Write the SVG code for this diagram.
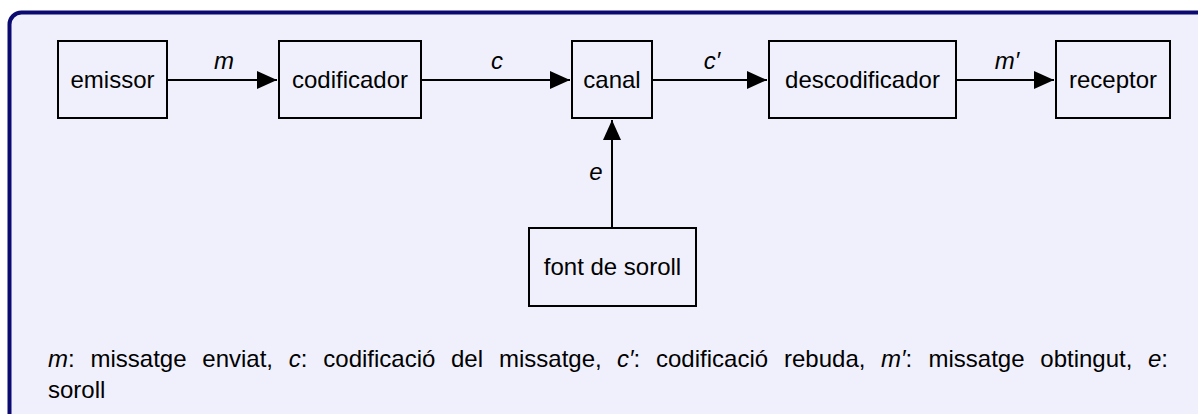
<svg xmlns="http://www.w3.org/2000/svg" width="1198" height="414" viewBox="0 0 1198 414">
<style>
text{font-family:"Liberation Sans",Arial,sans-serif;font-size:24px;fill:#000}
.box{fill:none;stroke:#000;stroke-width:2}
.lbl{text-anchor:middle}
.it{font-style:italic}
.edge{stroke:#000;stroke-width:2;fill:none}
</style>
<defs>
<marker id="ah" markerUnits="userSpaceOnUse" markerWidth="20" markerHeight="18" refX="20" refY="9" orient="auto">
<path d="M0,0 L20,9 L0,18 z" fill="#000"/>
</marker>
</defs>
<rect x="9.5" y="12.5" width="1210" height="430" rx="12" fill="#f0f0fc" stroke="#0a0a70" stroke-width="4"/>
<g id="emissor"><rect class="box" x="58" y="41" width="109" height="77"/><text class="lbl" x="112.5" y="88">emissor</text></g>
<g id="codificador"><rect class="box" x="279" y="41" width="142" height="77"/><text class="lbl" x="350" y="88">codificador</text></g>
<g id="canal"><rect class="box" x="572" y="41" width="80" height="77"/><text class="lbl" x="612" y="88">canal</text></g>
<g id="descodificador"><rect class="box" x="769" y="41" width="187" height="77"/><text class="lbl" x="862.5" y="88">descodificador</text></g>
<g id="receptor"><rect class="box" x="1056" y="41" width="114" height="77"/><text class="lbl" x="1113" y="88">receptor</text></g>
<g id="font"><rect class="box" x="529" y="228" width="167" height="78"/><text class="lbl" x="612.5" y="275">font de soroll</text></g>
<g id="connectors">
<line class="edge" x1="167" y1="80" x2="277" y2="80" marker-end="url(#ah)"/>
<line class="edge" x1="421" y1="80" x2="570" y2="80" marker-end="url(#ah)"/>
<line class="edge" x1="652" y1="80" x2="767" y2="80" marker-end="url(#ah)"/>
<line class="edge" x1="956" y1="80" x2="1054" y2="80" marker-end="url(#ah)"/>
<line class="edge" x1="612" y1="228" x2="612" y2="120" marker-end="url(#ah)"/>
<text class="lbl it" x="224" y="69">m</text>
<text class="lbl it" x="497" y="69">c</text>
<text class="lbl it" x="712" y="69">c′</text>
<text class="lbl it" x="1007" y="69">m′</text>
<text class="lbl it" x="596" y="180">e</text>
</g>
<g id="legend">
<text y="367"><tspan x="48" class="it">m</tspan><tspan>:</tspan><tspan x="90.5">missatge</tspan><tspan x="202.3">enviat,</tspan><tspan x="288.8" class="it">c</tspan><tspan>:</tspan><tspan x="323.3">codificació</tspan><tspan x="451">del</tspan><tspan x="499">missatge,</tspan><tspan x="617" class="it">c′</tspan><tspan>:</tspan><tspan x="656">codificació</tspan><tspan x="784">rebuda,</tspan><tspan x="881" class="it">m′</tspan><tspan>:</tspan><tspan x="928.5">missatge</tspan><tspan x="1040.3">obtingut,</tspan><tspan x="1148" class="it">e</tspan><tspan>:</tspan></text>
<text x="48" y="398">soroll</text>
</g>
</svg>
